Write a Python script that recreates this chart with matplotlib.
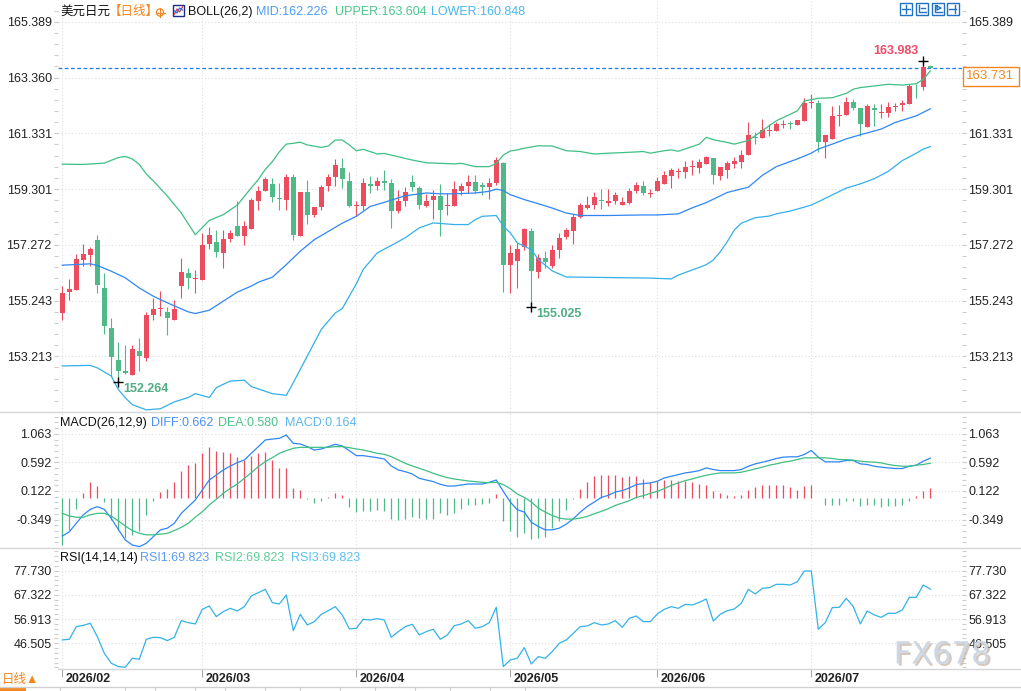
import numpy as np
import pandas as pd
import matplotlib
matplotlib.use("Agg")
import matplotlib.pyplot as plt
import matplotlib.patheffects as pe
from matplotlib.patches import Rectangle, Circle
from matplotlib.ticker import AutoMinorLocator

plt.rcParams['font.family'] = ['Liberation Sans', 'Noto Sans CJK SC', 'DejaVu Sans']

# USD/JPY daily bars
dates = pd.bdate_range('2026-02-02', periods=125)

open_ = [154.79, 155.55, 155.64, 156.71, 156.91, 157.46, 155.70, 154.25, 153.06, 152.67,
         152.52, 153.39, 153.14, 154.70, 154.93, 154.81, 154.52, 155.76, 156.23, 156.04,
         155.98, 157.29, 157.39, 156.98, 157.49, 157.97, 157.58, 157.86, 158.85, 159.25,
         159.49, 158.97, 158.91, 159.74, 157.61, 159.19, 158.34, 158.64, 159.40, 159.73,
         160.06, 159.60, 158.67, 158.70, 159.47, 159.43, 159.58, 159.54, 158.52, 158.85,
         159.57, 159.34, 158.67, 158.89, 159.04, 158.67, 158.67, 159.25, 159.40, 159.56,
         159.46, 159.37, 159.52, 160.27, 156.52, 156.68, 157.19, 157.79, 156.29, 156.80,
         156.50, 157.08, 157.55, 157.77, 158.29, 158.62, 158.73, 158.89, 158.80, 158.86,
         158.71, 158.79, 159.24, 159.40, 159.12, 159.25, 159.50, 159.77, 159.91, 159.92,
         160.10, 160.07, 160.22, 160.43, 159.77, 160.01, 160.22, 160.28, 160.55, 161.21,
         161.16, 161.43, 161.40, 161.63, 161.69, 161.63, 161.77, 162.42, 162.43, 161.00,
         161.13, 161.97, 161.99, 162.48, 162.27, 161.58, 162.27, 162.06, 162.09, 162.31,
         162.36, 162.39, 163.06, 163.02, 163.77]
high = [155.77, 156.04, 156.92, 157.31, 157.20, 157.64, 156.25, 154.61, 153.73, 153.64,
        153.61, 153.89, 154.83, 155.32, 155.58, 155.01, 155.26, 156.79, 156.42, 156.35,
        157.70, 157.92, 157.82, 157.82, 157.82, 158.85, 158.13, 158.97, 159.40, 159.74,
        159.70, 159.52, 159.85, 159.85, 159.20, 159.62, 158.66, 159.46, 159.85, 160.40,
        160.43, 159.94, 158.85, 159.72, 159.78, 159.76, 160.00, 159.66, 159.28, 159.37,
        159.83, 159.42, 159.13, 159.28, 159.48, 159.16, 159.59, 159.52, 159.82, 159.82,
        159.56, 159.70, 160.46, 160.30, 157.28, 157.35, 157.89, 157.89, 156.92, 157.04,
        157.25, 157.71, 157.89, 158.41, 158.79, 159.06, 159.19, 159.30, 159.30, 159.19,
        159.01, 159.34, 159.55, 159.58, 159.31, 159.74, 159.95, 160.08, 160.08, 160.34,
        160.36, 160.40, 160.49, 160.43, 160.10, 160.34, 160.46, 160.73, 161.75, 161.39,
        161.87, 161.69, 161.75, 161.81, 161.79, 161.83, 162.63, 162.78, 162.55, 161.28,
        162.33, 162.36, 162.66, 162.60, 162.27, 162.39, 162.39, 162.39, 162.48, 162.43,
        162.55, 163.14, 163.14, 163.983, 163.84]
low = [154.53, 155.28, 155.64, 156.49, 156.49, 155.50, 154.01, 152.49, 152.264, 152.55,
       152.52, 152.67, 153.04, 154.53, 154.67, 153.98, 154.52, 155.32, 155.68, 155.50,
       155.98, 157.13, 156.82, 156.43, 157.38, 157.58, 157.25, 157.86, 158.55, 159.22,
       158.82, 158.55, 158.55, 157.46, 157.58, 158.04, 158.28, 158.55, 159.25, 159.43,
       159.34, 158.65, 158.31, 158.53, 159.16, 159.28, 159.28, 157.89, 158.43, 158.70,
       159.22, 158.59, 158.64, 158.23, 157.59, 158.34, 158.67, 159.09, 159.16, 159.16,
       159.09, 158.94, 159.46, 155.56, 155.50, 155.69, 157.10, 155.025, 156.05, 156.44,
       156.44, 156.78, 157.50, 157.31, 158.25, 158.56, 158.59, 158.58, 158.70, 158.77,
       158.71, 158.77, 159.16, 159.07, 159.01, 159.25, 159.49, 159.34, 159.71, 159.70,
       159.80, 159.89, 160.20, 159.47, 159.62, 159.70, 160.07, 160.07, 160.55, 160.94,
       161.16, 161.25, 161.40, 161.51, 161.49, 161.63, 161.77, 162.25, 160.64, 160.44,
       161.13, 161.61, 161.99, 162.19, 161.25, 161.58, 161.61, 161.89, 161.91, 162.15,
       162.15, 162.39, 162.63, 162.91, 163.73]
close = [155.52, 155.65, 156.77, 156.95, 157.13, 155.80, 154.31, 153.20, 152.67, 152.61,
         153.46, 153.21, 154.71, 154.92, 154.95, 154.59, 154.92, 156.30, 156.05, 156.07,
         157.27, 157.64, 157.00, 157.50, 157.70, 157.58, 157.97, 158.89, 159.24, 159.68,
         159.00, 158.94, 159.74, 157.64, 159.18, 158.37, 158.64, 159.37, 159.73, 160.19,
         159.66, 158.67, 158.73, 159.54, 159.43, 159.60, 159.54, 158.49, 158.88, 159.19,
         159.37, 158.71, 158.88, 159.06, 158.53, 158.73, 159.30, 159.40, 159.56, 159.25,
         159.37, 159.52, 160.37, 156.54, 156.98, 157.13, 157.83, 156.32, 156.80, 156.66,
         157.07, 157.53, 157.80, 158.29, 158.71, 158.73, 159.00, 158.86, 158.88, 159.10,
         158.82, 159.24, 159.46, 159.16, 159.14, 159.58, 159.83, 159.98, 159.94, 160.12,
         160.12, 160.28, 160.46, 159.80, 160.10, 160.24, 160.32, 160.56, 161.28, 161.16,
         161.45, 161.46, 161.69, 161.69, 161.67, 161.83, 162.42, 162.49, 161.00, 161.28,
         161.97, 161.99, 162.49, 162.27, 161.67, 162.33, 162.18, 162.09, 162.30, 162.33,
         162.43, 163.06, 163.04, 163.75, 163.731]

# BOLL(26,2) (bar number, value)
upper_at = [0, 3, 6, 8, 9, 10, 11, 12, 13, 15, 17, 19, 21, 23, 25, 27, 28, 29, 30, 31,
            32, 33, 34, 35, 37, 38, 39, 40, 41, 42, 43, 45, 46, 48, 50, 52, 54, 56, 57, 59,
            61, 62, 63, 64, 65, 66, 68, 70, 72, 74, 76, 78, 80, 83, 84, 86, 87, 88, 91, 92,
            93, 95, 96, 98, 100, 102, 105, 106, 108, 110, 112, 113, 114, 116, 118, 120, 122, 123, 124]
upper = [160.21, 160.20, 160.25, 160.45, 160.49, 160.40, 160.20, 159.85, 159.60, 159.05,
         158.43, 157.64, 158.16, 158.37, 158.72, 159.35, 159.65, 160.02, 160.30, 160.66,
         160.94, 160.97, 161.01, 160.91, 160.82, 160.87, 161.09, 161.09, 160.91, 160.70,
         160.75, 160.58, 160.60, 160.48, 160.36, 160.26, 160.24, 160.22, 160.24, 160.12,
         160.12, 160.24, 160.54, 160.69, 160.73, 160.79, 160.88, 160.87, 160.70, 160.67,
         160.58, 160.61, 160.63, 160.67, 160.61, 160.70, 160.73, 160.68, 160.94, 161.19,
         161.10, 161.00, 160.94, 161.07, 161.43, 161.79, 162.15, 162.51, 162.61, 162.63,
         162.79, 162.94, 163.00, 163.06, 163.12, 163.09, 163.14, 163.30, 163.604]
mid_at = [0, 4, 5, 7, 9, 11, 13, 15, 17, 18, 19, 21, 23, 25, 27, 28, 30, 32, 34, 36,
          38, 40, 42, 44, 46, 49, 52, 54, 56, 59, 61, 62, 63, 64, 66, 68, 70, 72, 74, 78,
          83, 85, 88, 90, 92, 95, 98, 100, 102, 105, 107, 108, 110, 112, 114, 117, 119, 122, 124]
mid = [156.53, 156.58, 156.52, 156.31, 156.07, 155.70, 155.40, 155.16, 154.94, 154.83,
       154.77, 154.89, 155.22, 155.55, 155.77, 155.91, 156.09, 156.55, 157.04, 157.46,
       157.76, 158.06, 158.31, 158.67, 158.82, 159.06, 159.16, 159.13, 159.13, 159.16,
       159.22, 159.30, 159.25, 159.10, 158.92, 158.77, 158.61, 158.43, 158.34, 158.34,
       158.36, 158.36, 158.40, 158.62, 158.81, 159.18, 159.37, 159.80, 160.12, 160.40,
       160.61, 160.76, 160.94, 161.13, 161.28, 161.49, 161.73, 161.97, 162.226]
lower_at = [0, 4, 5, 7, 8, 9, 10, 12, 14, 16, 18, 19, 21, 22, 24, 26, 27, 30, 32, 33,
            35, 37, 39, 40, 42, 43, 45, 47, 49, 51, 53, 54, 56, 58, 59, 60, 62, 63, 64, 65,
            67, 68, 70, 72, 84, 87, 88, 91, 92, 93, 94, 95, 96, 97, 99, 101, 102, 104, 107, 108,
            110, 112, 114, 116, 118, 120, 122, 123, 124]
lower = [152.86, 152.88, 152.79, 152.49, 152.00, 151.70, 151.45, 151.26, 151.30, 151.55,
         151.71, 151.85, 151.71, 152.07, 152.31, 152.34, 152.11, 151.85, 151.79, 152.25,
         153.22, 154.19, 154.79, 154.95, 155.85, 156.38, 156.98, 157.25, 157.53, 157.89,
         158.07, 158.05, 158.01, 158.01, 158.19, 158.31, 158.34, 157.95, 157.71, 157.34,
         157.10, 156.74, 156.32, 156.10, 156.06, 156.03, 156.17, 156.45, 156.55, 156.72,
         157.02, 157.39, 157.81, 158.06, 158.26, 158.32, 158.40, 158.50, 158.72, 158.84,
         159.09, 159.34, 159.49, 159.68, 159.95, 160.34, 160.61, 160.76, 160.848]

# MACD(26,12,9)
diff = [-0.62, -0.55, -0.41, -0.27, -0.18, -0.136, -0.18, -0.33, -0.51, -0.685,
        -0.767, -0.795, -0.74, -0.63, -0.52, -0.49, -0.41, -0.246, -0.136, -0.026,
        0.138, 0.303, 0.385, 0.468, 0.534, 0.589, 0.633, 0.742, 0.852, 0.962,
        0.978, 0.989, 1.044, 0.907, 0.896, 0.852, 0.797, 0.814, 0.852, 0.891,
        0.863, 0.786, 0.704, 0.704, 0.687, 0.671, 0.649, 0.534, 0.468, 0.44,
        0.402, 0.33, 0.303, 0.276, 0.232, 0.204, 0.204, 0.221, 0.237, 0.237,
        0.237, 0.265, 0.303, 0.116, -0.06, -0.187, -0.226, -0.391, -0.463, -0.518,
        -0.518, -0.49, -0.424, -0.336, -0.226, -0.132, -0.06, 0.017, 0.05, 0.105,
        0.128, 0.172, 0.227, 0.243, 0.254, 0.282, 0.337, 0.365, 0.392, 0.42,
        0.436, 0.458, 0.502, 0.475, 0.458, 0.458, 0.458, 0.475, 0.53, 0.569,
        0.596, 0.624, 0.657, 0.679, 0.685, 0.685, 0.723, 0.789, 0.679, 0.602,
        0.602, 0.602, 0.624, 0.624, 0.569, 0.558, 0.53, 0.514, 0.502, 0.492,
        0.492, 0.53, 0.547, 0.613, 0.662]
dea = [-0.246, -0.29, -0.31, -0.31, -0.27, -0.246, -0.246, -0.29, -0.37, -0.455,
       -0.53, -0.575, -0.60, -0.60, -0.59, -0.575, -0.53, -0.476, -0.41, -0.31,
       -0.22, -0.108, -0.015, 0.084, 0.166, 0.237, 0.33, 0.424, 0.523, 0.605,
       0.671, 0.742, 0.786, 0.825, 0.841, 0.841, 0.841, 0.841, 0.841, 0.852,
       0.852, 0.836, 0.814, 0.797, 0.77, 0.742, 0.726, 0.687, 0.633, 0.578,
       0.534, 0.495, 0.457, 0.413, 0.375, 0.342, 0.32, 0.303, 0.287, 0.276,
       0.265, 0.259, 0.265, 0.227, 0.161, 0.072, 0.017, -0.06, -0.159, -0.226,
       -0.281, -0.325, -0.341, -0.341, -0.325, -0.297, -0.253, -0.214, -0.17, -0.115,
       -0.077, -0.038, 0.017, 0.045, 0.083, 0.116, 0.161, 0.216, 0.254, 0.293,
       0.32, 0.354, 0.381, 0.403, 0.42, 0.42, 0.42, 0.431, 0.458, 0.486,
       0.514, 0.547, 0.569, 0.596, 0.613, 0.64, 0.668, 0.668, 0.668, 0.668,
       0.657, 0.64, 0.64, 0.629, 0.613, 0.602, 0.596, 0.585, 0.558, 0.541,
       0.53, 0.53, 0.547, 0.558, 0.580]
macd = [-0.767, -0.52, -0.174, 0.095, 0.276, 0.204, -0.054, -0.356, -0.52, -0.66,
        -0.60, -0.53, -0.27, -0.05, 0.111, 0.155, 0.265, 0.45, 0.55, 0.589,
        0.742, 0.852, 0.78, 0.759, 0.753, 0.676, 0.632, 0.704, 0.742, 0.77,
        0.632, 0.495, 0.495, 0.166, 0.138, -0.015, -0.08, -0.05, 0.018, 0.084,
        0.056, -0.136, -0.22, -0.20, -0.20, -0.19, -0.20, -0.339, -0.356, -0.339,
        -0.30, -0.33, -0.339, -0.339, -0.246, -0.27, -0.246, -0.174, -0.108, -0.108,
        -0.098, -0.07, 0.073, -0.369, -0.545, -0.628, -0.573, -0.672, -0.656, -0.628,
        -0.49, -0.369, -0.198, -0.01, 0.161, 0.265, 0.365, 0.381, 0.392, 0.392,
        0.348, 0.365, 0.365, 0.326, 0.271, 0.293, 0.298, 0.31, 0.293, 0.282,
        0.265, 0.243, 0.227, 0.128, 0.094, 0.061, 0.045, 0.061, 0.144, 0.183,
        0.216, 0.216, 0.227, 0.216, 0.183, 0.144, 0.199, 0.216, 0.005, -0.115,
        -0.104, -0.104, -0.038, -0.038, -0.132, -0.104, -0.115, -0.148, -0.132, -0.132,
        -0.115, -0.038, 0.034, 0.128, 0.164]

# RSI(14)
rsi = [47.95, 48.23, 53.67, 54.24, 55.10, 49.38, 42.22, 37.92, 36.49, 36.20,
       40.07, 39.64, 48.23, 49.09, 48.95, 47.66, 49.09, 56.25, 55.39, 54.82,
       61.12, 62.55, 57.97, 60.12, 61.55, 60.40, 62.27, 66.85, 68.28, 69.71,
       63.98, 63.41, 67.28, 51.95, 58.97, 54.39, 55.82, 58.97, 60.55, 62.27,
       58.68, 52.67, 52.96, 56.83, 56.54, 57.11, 56.54, 49.09, 51.52, 53.67,
       54.67, 50.09, 51.52, 52.53, 48.23, 50.09, 54.10, 54.82, 56.25, 52.96,
       53.67, 55.39, 61.98, 36.49, 39.35, 40.07, 44.65, 37.63, 40.78, 40.07,
       42.94, 46.51, 47.95, 50.81, 53.67, 53.96, 55.39, 54.39, 54.82, 56.25,
       53.39, 57.25, 58.26, 55.82, 55.82, 59.11, 61.12, 62.27, 61.55, 63.27,
       62.98, 64.13, 65.56, 56.11, 58.97, 60.55, 61.26, 63.70, 69.71, 67.71,
       70.14, 70.43, 71.86, 71.86, 71.57, 73.00, 77.59, 77.59, 52.53, 55.39,
       61.83, 61.98, 65.84, 62.27, 54.82, 60.40, 58.68, 57.68, 59.40, 59.40,
       60.83, 66.27, 66.27, 71.57, 69.823]

price_ticks = [165.389, 163.360, 161.331, 159.301, 157.272, 155.243, 153.213]
macd_ticks = [1.063, 0.592, 0.122, -0.349]
rsi_ticks = [77.730, 67.322, 56.913, 46.505]

RED = '#ec4d5e'
GREEN = '#4fb987'
UP_LINE = '#3fbf84'
MID_LINE = '#2f86f2'
LOW_LINE = '#33b0ea'
ORANGE = '#f5861f'
GRID = '#dedede'

W, H = 1021, 691
fig = plt.figure(figsize=(W / 100, H / 100), dpi=100)


def px_axes(x0, y0, x1, y1):
    return fig.add_axes([x0 / W, 1 - y1 / H, (x1 - x0) / W, (y1 - y0) / H])


ax = px_axes(58, 0, 962, 412)
ax2 = px_axes(58, 412, 962, 548)
ax3 = px_axes(58, 548, 962, 669)
price_lim = (151.182, 166.19)

n = len(close)
idx = np.arange(n)
o, h, l, c = map(np.array, (open_, high, low, close))
month_idx = [0] + [i for i in range(1, n) if dates[i].month != dates[i - 1].month]

for a, ticks, lim in ((ax, price_ticks, price_lim),
                      (ax2, macd_ticks, (-0.817, 1.423)),
                      (ax3, rsi_ticks, (35.45, 87.49))):
    a.set_xlim(-0.614, 128.53)
    a.set_ylim(*lim)
    a.set_yticks(ticks)
    a.set_yticklabels([f'{t:.3f}' for t in ticks])
    a.yaxis.set_minor_locator(AutoMinorLocator(5))
    a.tick_params(axis='y', which='both', left=True, right=True, labelleft=True,
                  labelright=True, length=3, width=0.8, color='#cccccc',
                  labelsize=9, labelcolor='#222222', pad=1.5)
    a.set_xticks(month_idx)
    a.tick_params(axis='x', length=0, labelbottom=False)
    a.grid(True, which='major', color=GRID, ls=(0, (1, 2)), lw=0.8)
    for s in a.spines.values():
        s.set_visible(False)
    a.set_axisbelow(True)

# candles
up = c >= o
col = np.where(up, RED, GREEN)
ax.vlines(idx, l, h, colors=col, lw=0.8, zorder=3)
ax.bar(idx, np.maximum(np.abs(c - o), 0.035), bottom=np.minimum(o, c), width=0.72,
       color=col, lw=0, zorder=3)

ax.plot(upper_at, upper, color=UP_LINE, lw=0.9, zorder=4)
ax.plot(mid_at, mid, color=MID_LINE, lw=0.9, zorder=4)
ax.plot(lower_at, lower, color=LOW_LINE, lw=0.9, zorder=4)

last = c[-1]
ax.axhline(last, color='#1f7ee6', ls=(0, (3, 2)), lw=0.9, zorder=2)

# the last-price box sits over the right-hand label it covers
span = price_lim[1] - price_lim[0]
for t in ax.yaxis.get_major_ticks():
    if abs(t.get_loc() - last) < 0.45:
        t.label2.set_visible(False)

# extremes
hi = int(np.argmax(h))
lo1 = int(np.argmin(l))
lo2 = 40 + int(np.argmin(l[40:]))
ax.plot([hi], [h[hi]], marker='+', color='black', ms=7, mew=1, zorder=6)
ax.annotate(f'{h[hi]:.3f}', xy=(hi, h[hi]), xytext=(-5, 10), textcoords='offset pixels',
            ha='right', va='center', color='#f04c66', fontsize=9, fontweight='bold')
for k in (lo1, lo2):
    ax.plot([k], [l[k]], marker='+', color='black', ms=7, mew=1, zorder=6)
    ax.annotate(f'{l[k]:.3f}', xy=(k, l[k]), xytext=(5, -7), textcoords='offset pixels',
                ha='left', va='center', color='#4fae84', fontsize=9, fontweight='bold')

# MACD
hcol = np.where(np.array(macd) >= 0, RED, GREEN)
ax2.vlines(idx, 0, macd, colors=hcol, lw=0.9, zorder=3)
ax2.plot(idx, diff, color='#2e86f5', lw=0.9, zorder=4)
ax2.plot(idx, dea, color='#3fbf84', lw=0.9, zorder=4)

# RSI
ax3.plot(idx, rsi, color='#33b2e8', lw=0.9, zorder=4)
ax3.tick_params(axis='x', length=6, width=0.8, color='#aaaaaa', direction='out')
for m in month_idx:
    ax3.annotate(dates[m].strftime('%Y/%m'), xy=(m, 0), xycoords=('data', 'axes fraction'),
                 xytext=(3, -10), textcoords='offset pixels', ha='left', va='center',
                 fontsize=9, fontweight='bold', color='#222222', annotation_clip=False)

# overlay for headers, separators and decorations (pixel coordinates)
ov = fig.add_axes([0, 0, 1, 1])
ov.set_xlim(0, W)
ov.set_ylim(H, 0)
ov.axis('off')
ov.patch.set_alpha(0)

for y in (412, 548):
    ov.plot([0, W], [y, y], color='#d6d6d6', lw=1)
ov.plot([58, W], [669, 669], color='#d6d6d6', lw=1)

# last price box on the right axis
y_last = 412 * (price_lim[1] - last) / span
ov.add_patch(Rectangle((962.5, y_last - 1), 56.5, 19.5, fc='white', ec=ORANGE, lw=1, zorder=5))
ov.text(966, y_last + 8.8, f'{last:.3f}', fontsize=9.5, color=ORANGE, va='center', zorder=6)

fs = 9
ov.text(60, 12, '美元日元', fontsize=fs, color='#111111', va='center')
ov.text(109, 12, '【日线】', fontsize=fs, color=ORANGE, va='center')
# small target icon next to the period tag
ov.add_patch(Circle((160, 12.5), 3.6, fc='none', ec=ORANGE, lw=0.9))
ov.plot([155.5, 164.5], [12.5, 12.5], color=ORANGE, lw=0.8)
ov.plot([160, 160], [8, 17], color=ORANGE, lw=0.8)
ov.add_patch(Rectangle((173, 5), 11, 11, fc='white', ec='#1c2a8a', lw=1))
ov.plot([174.5, 177, 179.5, 182.5], [14, 9, 12, 7], color='#e0303a', lw=0.9)
ov.plot([174.5, 177, 179.5, 182.5], [11, 13, 8, 10], color='#2f6fe0', lw=0.9)
ov.text(188, 12, 'BOLL(26,2)', fontsize=fs, color='#111111', va='center')
ov.text(256, 12, f'MID:{mid[-1]:.3f}', fontsize=fs, color='#4a9df5', va='center')
ov.text(335, 12, f'UPPER:{upper[-1]:.3f}', fontsize=fs, color='#4cc68c', va='center')
ov.text(431, 12, f'LOWER:{lower[-1]:.3f}', fontsize=fs, color='#46b6ef', va='center')

ov.text(60, 423, 'MACD(26,12,9)', fontsize=fs, color='#111111', va='center')
ov.text(151, 423, f'DIFF:{diff[-1]:.3f}', fontsize=fs, color='#4a90f2', va='center')
ov.text(218, 423, f'DEA:{dea[-1]:.3f}', fontsize=fs, color='#4cc38a', va='center')
ov.text(285, 423, f'MACD:{macd[-1]:.3f}', fontsize=fs, color='#5ab6f0', va='center')

ov.text(60, 558, 'RSI(14,14,14)', fontsize=fs, color='#111111', va='center')
ov.text(140, 558, f'RSI1:{rsi[-1]:.3f}', fontsize=fs, color='#5a9cf5', va='center')
ov.text(215, 558, f'RSI2:{rsi[-1]:.3f}', fontsize=fs, color='#5fcf98', va='center')
ov.text(291, 558, f'RSI3:{rsi[-1]:.3f}', fontsize=fs, color='#5cc2f2', va='center')

# toolbar icons, top right
for x0 in (900, 916, 932, 947):
    ov.add_patch(Rectangle((x0, 3), 12, 12, fc='white', ec='#1f72c4', lw=1))
ov.plot([906, 906], [5, 13], color='#1f72c4', lw=1)
ov.plot([902, 910], [9, 9], color='#1f72c4', lw=1)
ov.plot([919, 919, 926], [5, 12, 12], color='#1f72c4', lw=1)
ov.plot([921, 925], [8, 8], color='#1f72c4', lw=1)
ov.plot([935, 935, 942], [5, 12, 12], color='#1f72c4', lw=1)
ov.plot([937, 937, 941, 937], [6, 10, 8, 6], color='#1f72c4', lw=1)
ov.plot([949, 956], [9, 9], color='#1f72c4', lw=1)
ov.plot([955, 955], [5, 13], color='#1f72c4', lw=1)

# watermark (drawn over the right-hand RSI labels, as in the source chart)
ov.text(942, 655, 'FX678', fontsize=22, color='#cdd7e3', ha='center', va='center',
        family='DejaVu Sans',
        path_effects=[pe.withSimplePatchShadow(offset=(1.5, -1.5),
                                               shadow_rgbFace='#b8a48e', alpha=0.6)])

# bottom strip
ov.text(2, 680, '日线▲', fontsize=9, color=ORANGE, va='center')
ov.plot([0, W], [686.5, 686.5], color='#d0d0d0', lw=1)
ov.add_patch(Rectangle((0, 687), 26, 4, fc=ORANGE, ec='none'))
for x0 in (60, 125, 155, 195, 225, 265, 300, 340, 375, 415, 450, 490, 525):
    ov.plot([x0, x0], [687, 691], color='#cfcfcf', lw=0.8)

fig.savefig('out.png', dpi=100)
